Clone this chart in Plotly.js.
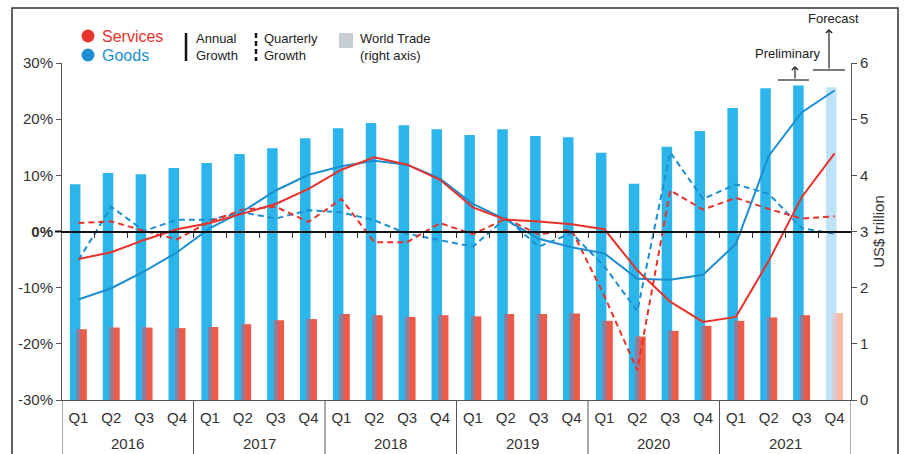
<!DOCTYPE html>
<html>
<head>
<meta charset="utf-8">
<script src="https://cdn.plot.ly/plotly-3.0.1.min.js"></script>
<style>
html,body{margin:0;padding:0;background:#fff;}
#chart{width:904px;height:454px;}
</style>
</head>
<body>
<div id="chart"></div>
<script>
// ---- data ----
const years = ['2016','2017','2018','2019','2020','2021'];
const quarters = ['Q1','Q2','Q3','Q4'];
// World trade, US$ trillion (right axis)
const goodsTrade    = [3.84,4.04,4.02,4.13, 4.22,4.38,4.48,4.66, 4.84,4.93,4.89,4.82, 4.72,4.82,4.70,4.68, 4.40,3.85,4.51,4.79, 5.20,5.55,5.60,5.57];
const servicesTrade = [1.26,1.29,1.29,1.28, 1.30,1.35,1.42,1.44, 1.53,1.51,1.48,1.51, 1.49,1.53,1.53,1.54, 1.41,1.13,1.23,1.32, 1.41,1.47,1.51,1.55];
// Growth, % (left axis)
const goodsAnnual       = [-12.1,-10.1,-7.1,-3.7, 0.6,3.6,7.3,10.1, 11.6,12.6,11.9,9.4, 4.9,2.1,-1.3,-2.8, -3.9,-8.4,-8.6,-7.7, -2.2,13.5,21.2,25.1];
const servicesAnnual    = [-4.9,-3.7,-1.5,0.4, 1.5,3.2,4.9,7.6, 11.0,13.2,11.9,9.2, 4.3,2.1,1.8,1.3, 0.4,-6.9,-12.5,-16.1, -15.2,-5.2,6.1,13.9];
const goodsQuarterly    = [-5.1,4.4,0.1,2.1, 2.1,3.4,2.3,3.8, 3.4,2.0,-0.4,-1.6, -2.7,2.4,-2.7,-0.3, -6.2,-14.2,14.1,5.8, 8.4,6.7,0.6,-0.4];
const servicesQuarterly = [1.5,1.8,0.1,-1.4, 1.8,3.9,4.4,1.7, 5.8,-1.9,-1.9,1.5, -0.5,2.3,-0.5,0.3, -11.5,-24.7,7.3,3.9, 6.0,4.0,2.3,2.7];
const pctTicks  = [-30,-20,-10,0,10,20,30];
const pctLabels = ['-30%','-20%','-10%','<b>0%</b>','10%','20%','30%'];
const usdTicks  = [0,1,2,3,4,5,6];
const forecastFlags = [0,0,0,0, 0,0,0,0, 0,0,0,0, 0,0,0,0, 0,0,0,0, 0,0,0,1];

// ---- build ----
const xQ = [];
years.forEach(y => quarters.forEach(q => xQ.push(q)));
const n = xQ.length;
const xIdx = xQ.map((_, i) => i);
const boundaries = [];
for (let i = 0; i < n - 1; i++) boundaries.push(i + 0.5);

const FONT = '"Liberation Sans Narrow", "Arial Narrow", "Liberation Sans", Arial, sans-serif';
const BLUE_BAR = '#2bb5ea', BLUE_BAR_F = '#bfe3f6';
const RED_BAR = '#ee5a48', RED_BAR_F = '#f8bba6';
const MIX_BAR = '#8b7e9e', MIX_BAR_F = '#dccbd8';
const BLUE_LINE = '#1b8fd2', RED_LINE = '#e8322a';

const col = (a, b) => forecastFlags.map(f => f ? b : a);

const traces = [
  {type:'bar', x:xIdx, y:goodsTrade, yaxis:'y', width:0.32, offset:-0.26,
   marker:{color:col(BLUE_BAR, BLUE_BAR_F), line:{width:0}}, hoverinfo:'y', showlegend:false},
  {type:'bar', x:xIdx, y:servicesTrade, yaxis:'y', width:0.31, offset:-0.055,
   marker:{color:col(RED_BAR, RED_BAR_F), line:{width:0}}, hoverinfo:'y', showlegend:false},
  {type:'bar', x:xIdx, y:servicesTrade, yaxis:'y', width:0.115, offset:-0.055,
   marker:{color:col(MIX_BAR, MIX_BAR_F), line:{width:0}}, hoverinfo:'skip', showlegend:false},
  {type:'scatter', mode:'lines', x:xIdx, y:goodsQuarterly, yaxis:'y2',
   line:{color:BLUE_LINE, width:2, dash:'6px,4px'}, showlegend:false},
  {type:'scatter', mode:'lines', x:xIdx, y:servicesQuarterly, yaxis:'y2',
   line:{color:RED_LINE, width:2, dash:'6px,4px'}, showlegend:false},
  {type:'scatter', mode:'lines', x:xIdx, y:goodsAnnual, yaxis:'y2',
   line:{color:BLUE_LINE, width:2}, showlegend:false},
  {type:'scatter', mode:'lines', x:xIdx, y:servicesAnnual, yaxis:'y2',
   line:{color:RED_LINE, width:2}, showlegend:false},
  {type:'scatter', mode:'lines', x:[], y:[], xaxis:'x2', yaxis:'y2', showlegend:false, hoverinfo:'skip'}
];

// pixel -> paper helpers (layout only)
const L = 62, R = 851, T = 63, B = 400;
const px = x => (x - L) / (R - L);
const py = y => (B - y) / (B - T);

const txt = (x, y, text, size, color, anchor) => ({
  xref:'paper', yref:'paper', x:px(x), y:py(y), text:text, showarrow:false,
  xanchor:anchor || 'left', yanchor:'middle', font:{family:FONT, size:size, color:color || '#222'}
});

const annotations = [
  txt(100, 36, 'Services', 16, RED_LINE),
  txt(100, 55, 'Goods', 16, BLUE_LINE),
  txt(194, 39, 'Annual', 13),
  txt(194, 55, 'Growth', 13),
  txt(262, 39, 'Quarterly', 13),
  txt(262, 55, 'Growth', 13),
  txt(358, 39, 'World Trade', 13),
  txt(358, 55, '(right axis)', 13),
  txt(833, 19, 'Forecast', 13, '#222', 'center'),
  txt(788, 53, 'Preliminary', 13, '#222', 'center'),
  {xref:'paper', yref:'paper', x:px(829), y:py(29), ax:0, ay:41, text:'', showarrow:true,
   arrowhead:4, arrowsize:1, arrowwidth:1.2, arrowcolor:'#222'},
  {xref:'paper', yref:'paper', x:px(795), y:py(66), ax:0, ay:14, text:'', showarrow:true,
   arrowhead:4, arrowsize:1, arrowwidth:1.2, arrowcolor:'#222'}
];
// year labels, centred under each group of quarters
years.forEach((y, k) => {
  annotations.push({xref:'x', yref:'paper', x:k * quarters.length + (quarters.length - 1) / 2, y:py(443),
    text:y, showarrow:false, xanchor:'center', yanchor:'middle', font:{family:FONT, size:15, color:'#333'}});
});

const shapes = [
  // outer frame
  {type:'rect', xref:'paper', yref:'paper', x0:px(12), x1:px(898), y0:py(470), y1:py(8),
   line:{color:'#333', width:1.5}, fillcolor:'rgba(0,0,0,0)', layer:'above'},
  // legend markers
  {type:'circle', xref:'paper', yref:'paper', x0:px(81.5), x1:px(94.5), y0:py(42.5), y1:py(29.5),
   fillcolor:RED_LINE, line:{width:0}},
  {type:'circle', xref:'paper', yref:'paper', x0:px(81.5), x1:px(94.5), y0:py(61.5), y1:py(48.5),
   fillcolor:BLUE_LINE, line:{width:0}},
  {type:'line', xref:'paper', yref:'paper', x0:px(186), x1:px(186), y0:py(33), y1:py(61),
   line:{color:'#111', width:2.5}},
  {type:'line', xref:'paper', yref:'paper', x0:px(256), x1:px(256), y0:py(33), y1:py(61),
   line:{color:'#111', width:2.5, dash:'5px,3px'}},
  {type:'rect', xref:'paper', yref:'paper', x0:px(339), x1:px(353), y0:py(48), y1:py(33),
   fillcolor:'#c6cdd3', line:{width:0}},
  // preliminary / forecast brackets
  {type:'line', xref:'paper', yref:'paper', x0:px(778), x1:px(809), y0:py(80), y1:py(80),
   line:{color:'#222', width:1.2}},
  {type:'line', xref:'paper', yref:'paper', x0:px(813), x1:px(845), y0:py(70), y1:py(70),
   line:{color:'#222', width:1.2}},
  // zero line extends a little left of the axis
  {type:'line', xref:'paper', yref:'y2', x0:px(55), x1:px(62), y0:0, y1:0,
   line:{color:'#111', width:2}}
];
// year dividers in the category area
for (let k = 0; k <= years.length; k++) {
  const xb = k * quarters.length - 0.5;
  shapes.push({type:'line', xref:'x', yref:'paper', x0:xb, x1:xb, y0:0, y1:py(470),
    line:{color:'#555', width:1}});
}

const layout = {
  width:904, height:454,
  margin:{l:L, r:904 - R, t:T, b:454 - B, pad:0},
  paper_bgcolor:'#fff', plot_bgcolor:'#fff',
  font:{family:FONT, size:15, color:'#333'},
  barmode:'overlay',
  showlegend:false,
  xaxis:{type:'linear', range:[-0.5, n - 0.5], tickvals:xIdx, ticktext:xQ, showline:true,
         linecolor:'#555', linewidth:1, ticks:'', ticklabelstandoff:4, showgrid:false, zeroline:false,
         tickfont:{size:15, color:'#333'}},
  xaxis2:{type:'linear', overlaying:'x', anchor:'free', position:0.5, range:[-0.5, n - 0.5],
          tickvals:boundaries, ticks:'outside', ticklen:5, tickcolor:'#333', tickwidth:1,
          showticklabels:false, showline:true, linecolor:'#111', linewidth:2,
          showgrid:false, zeroline:false},
  yaxis:{side:'right', range:[0, 6], tickvals:usdTicks, ticks:'outside', ticklen:5, tickcolor:'#555',
         showline:true, linecolor:'#555', showgrid:false, zeroline:false,
         tickfont:{size:15, color:'#333'},
         title:{text:'US$ trillion', font:{size:15, color:'#333'}, standoff:6}},
  yaxis2:{side:'left', overlaying:'y', range:[-30, 30], tickvals:pctTicks, ticktext:pctLabels,
          ticks:'outside', ticklen:5, tickcolor:'#555', showline:true, linecolor:'#555',
          showgrid:false, zeroline:false, tickfont:{size:15, color:'#333'}},
  annotations:annotations,
  shapes:shapes
};

Plotly.newPlot('chart', traces, layout, {staticPlot:true, displayModeBar:false});
</script>
</body>
</html>
